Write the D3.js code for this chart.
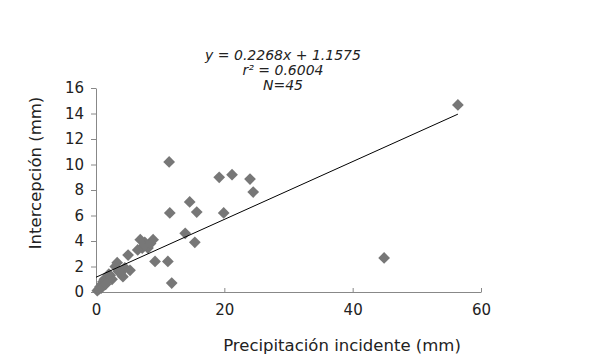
<!DOCTYPE html>
<html>
<head>
<meta charset="utf-8">
<script src="https://cdn.jsdelivr.net/npm/d3@7"></script>
<style>
  body { margin: 0; background: #fff; }
  text { font-family: "DejaVu Sans", Verdana, sans-serif; fill: #222; }
</style>
</head>
<body>
<div id="chart"></div>
<script>
// precipitación incidente (mm)
const precip = [0.2, 0.4, 0.6, 0.9, 1.1, 1.3, 1.6, 1.9, 2.2, 2.5,
  0.8, 1.5, 2.0, 3.0, 3.3, 3.8, 4.2, 4.5, 5.0, 5.3,
  3.5, 6.9, 7.2, 7.6, 8.1, 8.9, 7.4, 8.5, 9.2, 11.2,
  11.8, 11.4, 11.5, 13.9, 14.6, 15.4, 15.7, 19.2, 19.9, 21.2,
  24.0, 24.5, 44.9, 56.4, 6.5];
// intercepción (mm)
const intercep = [0.1, 0.2, 0.4, 0.6, 0.8, 1.0, 0.9, 1.1, 1.3, 1.0,
  0.3, 0.6, 1.4, 2.0, 2.3, 1.5, 1.2, 1.9, 2.9, 1.7,
  1.6, 4.1, 3.45, 3.9, 3.45, 4.1, 3.6, 3.8, 2.4, 2.4,
  0.7, 10.2, 6.2, 4.6, 7.06, 3.9, 6.27, 9.0, 6.2, 9.2,
  8.86, 7.84, 2.67, 14.67, 3.3];

const slope = 0.2268, intercept = 1.1575;
const eqLines = ["y = 0.2268x + 1.1575", "r² = 0.6004", "N=45"];
const xTicks = [0, 20, 40, 60];
const yTicks = [0, 2, 4, 6, 8, 10, 12, 14, 16];

const width = 601, height = 361;
const svg = d3.select("#chart").append("svg")
  .attr("width", width)
  .attr("height", height);

const x = d3.scaleLinear().domain([0, 60]).range([96, 481]);
const y = d3.scaleLinear().domain([0, 16]).range([292, 88]);

// axes
const xAxis = svg.append("g")
  .attr("transform", "translate(0," + y(0) + ")")
  .call(d3.axisBottom(x).tickValues(xTicks).tickSizeInner(-4).tickSizeOuter(0).tickPadding(12));
const yAxis = svg.append("g")
  .attr("transform", "translate(" + x(0) + ",0)")
  .call(d3.axisLeft(y).tickValues(yTicks).tickSizeInner(5).tickSizeOuter(0).tickPadding(7));

[xAxis, yAxis].forEach(function (g) {
  g.select(".domain").attr("stroke", "#888");
  g.selectAll(".tick line").attr("stroke", "#888");
  g.selectAll(".tick text")
    .style("font-family", "DejaVu Sans, Verdana, sans-serif")
    .style("font-size", "15px")
    .attr("fill", "#1a1a1a");
});

// points
const pts = precip.map(function (p, i) { return { x: p, y: intercep[i] }; });
svg.append("g").selectAll("path")
  .data(pts)
  .enter()
  .append("path")
  .attr("d", d3.symbol().type(d3.symbolDiamond2).size(88))
  .attr("transform", function (d) { return "translate(" + x(d.x) + "," + y(d.y) + ")"; })
  .attr("fill", "#777");

// trend line
const xMax = d3.max(precip);
svg.append("line")
  .attr("x1", x(0))
  .attr("y1", y(intercept))
  .attr("x2", x(xMax))
  .attr("y2", y(slope * xMax + intercept))
  .attr("stroke", "#000")
  .attr("stroke-width", 1);

// equation
svg.append("g").selectAll("text")
  .data(eqLines)
  .enter()
  .append("text")
  .attr("x", 283)
  .attr("y", function (d, i) { return 60 + i * 15; })
  .attr("text-anchor", "middle")
  .style("font-size", "14px")
  .style("font-style", "italic")
  .attr("fill", "#111")
  .text(function (d) { return d; });

// axis titles
svg.append("text")
  .attr("x", 342)
  .attr("y", 351)
  .attr("text-anchor", "middle")
  .style("font-size", "16.5px")
  .attr("fill", "#111")
  .text("Precipitación incidente (mm)");

svg.append("text")
  .attr("transform", "translate(41,173) rotate(-90)")
  .attr("text-anchor", "middle")
  .style("font-size", "16.5px")
  .attr("fill", "#111")
  .text("Intercepción (mm)");
</script>
</body>
</html>
